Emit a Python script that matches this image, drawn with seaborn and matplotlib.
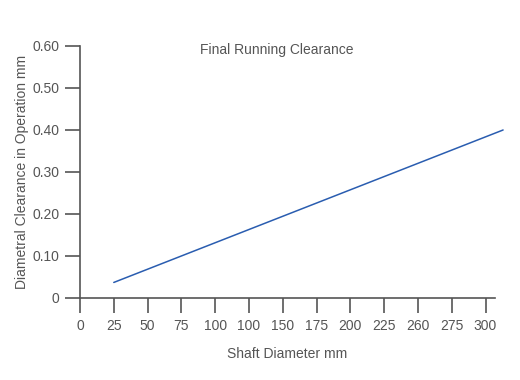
"""Final running clearance vs shaft diameter."""

import matplotlib

matplotlib.use("Agg")
import matplotlib.pyplot as plt
import numpy as np
import pandas as pd
import seaborn as sns

# data
shaft_mm = [25, 313]
clearance_mm = [0.037, 0.40]

x_tick_labels = ["0", "25", "50", "75", "100", "100", "150", "175", "200", "225", "260", "275", "300"]
y_tick_values = [0, 0.1, 0.2, 0.3, 0.4, 0.5, 0.6]
y_tick_labels = ["0", "0.10", "0.20", "0.30", "0.40", "0.50", "0.60"]

GREY = "#555555"
LINE_BLUE = "#2a5db0"


def main() -> int:
    sns.set_theme(style="ticks")
    plt.rcParams["font.family"] = ["Liberation Sans", "DejaVu Sans"]

    df = pd.DataFrame({"shaft": shaft_mm, "clearance": clearance_mm})

    fig = plt.figure(figsize=(5.2, 3.8), dpi=100)
    ax = fig.add_axes([0.1538, 0.2158, 0.7981, 0.6632])

    sns.lineplot(data=df, x="shaft", y="clearance", color=LINE_BLUE, linewidth=1.1, ax=ax, clip_on=False)

    ax.set_xlim(0, 307)
    ax.set_ylim(0, 0.6)
    ax.set_xticks(np.arange(len(x_tick_labels)) * 25)
    ax.set_xticklabels(x_tick_labels)
    ax.set_yticks(y_tick_values)
    ax.set_yticklabels(y_tick_labels)

    for side in ("top", "right"):
        ax.spines[side].set_visible(False)
    for side in ("left", "bottom"):
        ax.spines[side].set_color(GREY)
        ax.spines[side].set_linewidth(1.2)

    ax.tick_params(axis="both", colors=GREY, labelcolor=GREY, labelsize=10, width=1.2, length=11, pad=4)

    ax.set_xlabel("Shaft Diameter mm", color=GREY, fontsize=10, labelpad=10)
    ax.set_ylabel("Diametral Clearance in Operation mm", color=GREY, fontsize=10, labelpad=2)
    ax.text(0.475, 0.985, "Final Running Clearance", transform=ax.transAxes, ha="center", va="center",
            color=GREY, fontsize=10)

    fig.savefig("out.png", dpi=100)
    plt.close(fig)
    return 0


if __name__ == "__main__":
    raise SystemExit(main())
